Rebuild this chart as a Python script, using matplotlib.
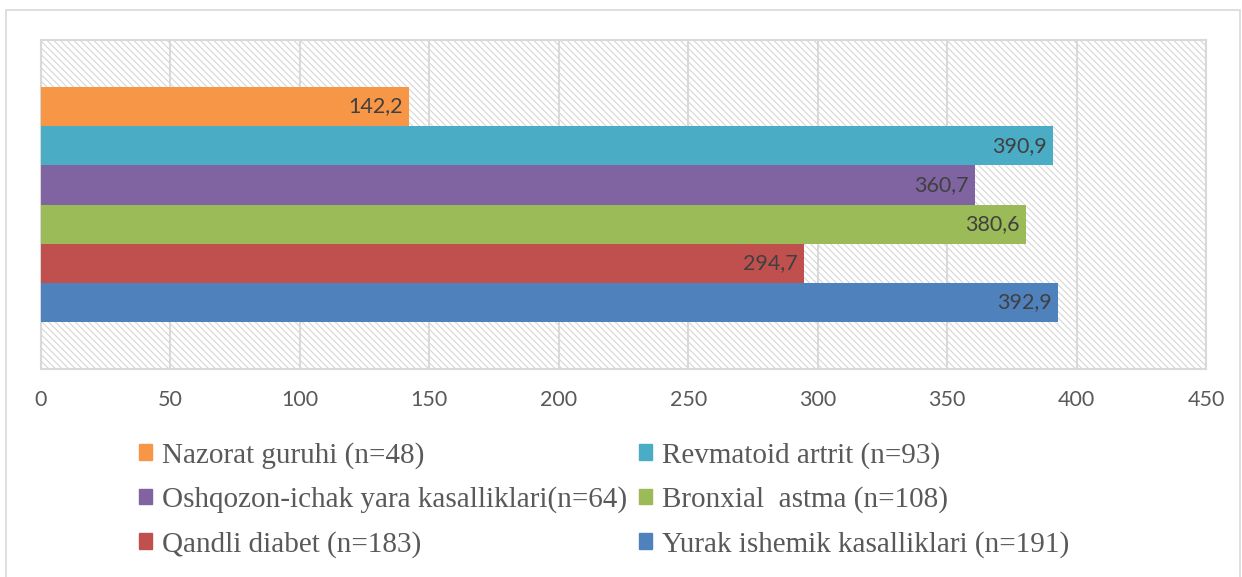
import numpy as np
import matplotlib.pyplot as plt
from matplotlib.patches import Rectangle, Patch

# series, bottom bar first
labels = ["Yurak ishemik kasalliklari (n=191)", "Qandli diabet (n=183)",
          "Bronxial  astma (n=108)", "Oshqozon-ichak yara kasalliklari(n=64)",
          "Revmatoid artrit (n=93)", "Nazorat guruhi (n=48)"]
values = [392.9, 294.7, 380.6, 360.7, 390.9, 142.2]
colors = ["#4F81BD", "#C0504D", "#9BBB59", "#8064A2", "#4BACC6", "#F79646"]
ticks = [0, 50, 100, 150, 200, 250, 300, 350, 400, 450]

plt.rcParams['hatch.linewidth'] = 0.8

fig = plt.figure(figsize=(12.42, 5.77), dpi=100)
fig.patches.append(Rectangle((6 / 1242, -0.1), 1234 / 1242, 1.1 - 10 / 577,
                             transform=fig.transFigure, fill=False,
                             edgecolor='#d9d9d9', linewidth=1.2))
ax = fig.add_axes([41 / 1242, 1 - 369 / 577, 1165 / 1242, 329 / 577])
# hatched plot area
ax.add_patch(Rectangle((0, 0), 1, 1, transform=ax.transAxes, facecolor='white',
                       edgecolor='#d6d6d6', linewidth=0, hatch='\\\\\\\\\\',
                       zorder=0))

pos = np.arange(len(values))
ax.barh(pos, values, height=1.0, color=colors, zorder=3)
for p, v in zip(pos, values):
    ax.text(v - 2.5, p, f"{v:.1f}".replace('.', ','), ha='right', va='center',
            fontsize=15.5, color='#404040', family='Lato', zorder=4)

ax.set_xlim(0, 450)
ax.set_ylim(-1.7, 6.7)
ax.set_xticks(ticks)
ax.set_xticklabels([str(t) for t in ticks], fontsize=15.5, color='#595959', family='Lato')
ax.set_yticks([])
ax.tick_params(axis='x', length=0, pad=15)
ax.grid(axis='x', color='#d9d9d9', linewidth=1.5, zorder=1)
ax.set_axisbelow(True)
for s in ax.spines.values():
    s.set_color('#d9d9d9')
    s.set_linewidth(1.5)

order = [5, 3, 1, 4, 2, 0]
handles = [Patch(color=colors[i], label=labels[i]) for i in order]
fig.legend(handles=handles, ncol=2, loc='upper left',
           bbox_to_anchor=(139 / 1242, 1 - 442 / 577), frameon=False,
           prop={'family': 'Liberation Serif', 'size': 21},
           labelcolor='#595959', handlelength=0.45, handleheight=0.45,
           handletextpad=0.35, columnspacing=0.4, labelspacing=0.6,
           borderpad=0, borderaxespad=0)

fig.savefig('out.png', dpi=100)
